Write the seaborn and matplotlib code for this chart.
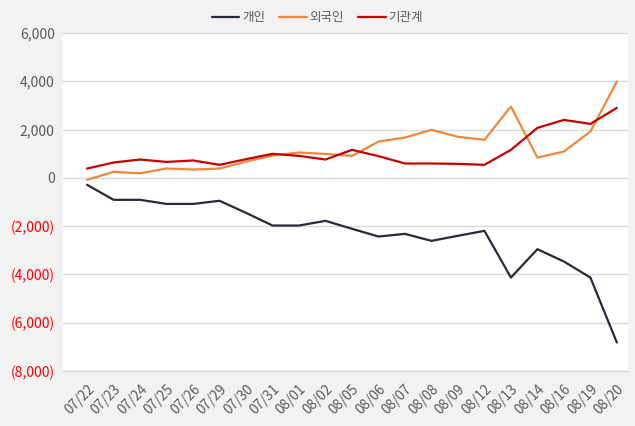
import matplotlib
matplotlib.use("Agg")
import matplotlib.pyplot as plt
import seaborn as sns
import pandas as pd
from matplotlib.ticker import FuncFormatter

dates = ["07/22", "07/23", "07/24", "07/25", "07/26", "07/29", "07/30", "07/31",
         "08/01", "08/02", "08/05", "08/06", "08/07", "08/08", "08/09", "08/12",
         "08/13", "08/14", "08/16", "08/19", "08/20"]
individual = [-290, -910, -910, -1080, -1080, -950, -1450, -1975, -1975, -1780, -2110,
              -2430, -2320, -2610, -2400, -2195, -4130, -2955, -3465, -4130, -6820]
foreign = [-80, 250, 190, 390, 345, 385, 675, 925, 1050, 990, 910,
           1505, 1670, 1990, 1700, 1575, 2955, 840, 1090, 1920, 3990]
institution = [385, 635, 760, 660, 720, 540, 775, 995, 910, 760, 1160,
               900, 595, 595, 580, 540, 1160, 2070, 2400, 2235, 2900]
series_names = ["개인", "외국인", "기관계"]
colors = ["#252b38", "#f0873a", "#c40000"]

df = pd.DataFrame({
    "date": dates * 3,
    "value": individual + foreign + institution,
    "series": [series_names[0]] * len(dates) + [series_names[1]] * len(dates) + [series_names[2]] * len(dates),
})

sns.set_style("white")
plt.rcParams["font.family"] = ["Noto Sans CJK KR", "DejaVu Sans"]

fig = plt.figure(figsize=(6.35, 4.26), dpi=100, facecolor="#f2f2f2")
ax = fig.add_axes([63 / 635, 1 - 371 / 426, (628 - 63) / 635, (371 - 33) / 426])
ax.set_facecolor("white")

sns.lineplot(data=df, x="date", y="value", hue="series", palette=colors,
             hue_order=series_names, sort=False, linewidth=1.6, ax=ax)

ax.set_ylim(-8000, 6000)
ax.set_yticks(range(-8000, 6001, 2000))
ax.set_xlim(-0.91, 20.42)
ax.grid(axis="y", color="#d9d9d9", linewidth=1)
ax.set_axisbelow(True)
for s in ["top", "right", "left"]:
    ax.spines[s].set_visible(False)
ax.spines["bottom"].set_color("#d9d9d9")
ax.spines["bottom"].set_linewidth(1)
ax.set_xlabel("")
ax.set_ylabel("")


def fmt(v, pos):
    if v < 0:
        return f"({abs(int(v)):,})"
    return f"{int(v):,}"


ax.yaxis.set_major_formatter(FuncFormatter(fmt))
ax.tick_params(axis="y", length=0, labelsize=10, pad=6)
for lbl, v in zip(ax.get_yticklabels(), ax.get_yticks()):
    lbl.set_color("#ff0000" if v < 0 else "#595959")

ax.tick_params(axis="x", length=0, labelsize=9.8, colors="#595959", pad=8)
plt.setp(ax.get_xticklabels(), rotation=45, ha="right", rotation_mode="anchor")

leg = ax.legend(loc="center", bbox_to_anchor=(0.5, 1 - 18 / 426),
                bbox_transform=fig.transFigure, ncol=3, frameon=False,
                fontsize=9, handlelength=2.2, columnspacing=1.1, handletextpad=0.25)
for t in leg.get_texts():
    t.set_color("#595959")

fig.savefig("out.png", dpi=100, facecolor=fig.get_facecolor())
